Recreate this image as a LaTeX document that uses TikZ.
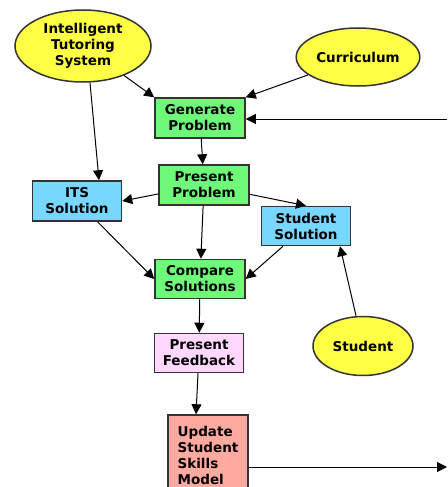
\documentclass[tikz,border=0pt]{standalone}
\usepackage{fontspec}
\setmainfont{DejaVu Sans}
\usetikzlibrary{shapes.geometric,arrows.meta}
\definecolor{ovalyellow}{RGB}{255,255,70}
\definecolor{stepgreen}{RGB}{110,250,120}
\definecolor{solblue}{RGB}{120,215,255}
\definecolor{fbpink}{RGB}{255,215,255}
\definecolor{modelred}{RGB}{255,170,160}
\begin{document}
\begin{tikzpicture}
  [x=1pt,y=-1pt,>={Triangle[length=10pt,width=10pt]},line width=1pt,
   every node/.style={font=\fontsize{13.5}{16}\selectfont\bfseries,draw=black!80,line width=1.5pt,inner sep=2pt},
   oval/.style={ellipse,fill=ovalyellow,align=center},
   box/.style={rectangle,minimum width=90pt,minimum height=40pt,align=center}]
  \useasboundingbox (0,0) rectangle (447,487);
  \node[oval,minimum width=136pt,minimum height=72pt] (its) at (83,46) {Intelligent\\Tutoring\\System};
  \node[oval,minimum width=100pt,minimum height=58pt] (cur) at (358,57) {Curriculum};
  \node[oval,minimum width=100pt,minimum height=59pt] (stu) at (363,346) {Student};

  \node[box,fill=stepgreen] (gen) at (200,118) {Generate\\Problem};
  \node[box,fill=stepgreen] (pres) at (204,185) {Present\\Problem};
  \node[box,fill=solblue,minimum width=89pt] (itssol) at (77,201) {ITS\\Solution};
  \node[box,fill=solblue,minimum width=89pt,minimum height=39pt] (stusol) at (306,226) {Student\\Solution};
  \node[box,fill=stepgreen,minimum height=39pt] (comp) at (200,279) {Compare\\Solutions};
  \node[box,fill=fbpink,minimum width=89pt,minimum height=39pt] (fb) at (199,353) {Present\\Feedback};
  \node[box,fill=modelred,minimum width=80pt,minimum height=80pt,align=left] (upd) at (208,455) {Update\\Student\\Skills\\Model};

  \coordinate (inR) at (447,119);
  \coordinate (outR) at (447,467);

  \draw[->] ([xshift=7pt]its.south) -- ([xshift=22pt]itssol.north);
  \draw[->] (its) -- (gen.north west);
  \draw[->] (cur) -- (gen.north east);
  \draw[->] (inR) -- (inR -| gen.east);
  \draw[->] (gen) -- (pres);
  \draw[->] (pres) -- (itssol.east);
  \draw[->] (pres) -- (stusol.north);
  \draw[->] (pres) -- (comp);
  \draw[->] (itssol) -- (comp.west);
  \draw[->] (stusol) -- (comp.east);
  \draw[->] ([xshift=-7pt]stu.north) -- ([xshift=34pt]stusol.south);
  \draw[->] (comp) -- (fb);
  \draw[->] (fb) -- ([xshift=-12pt]upd.north);
  \draw[->] (upd.east |- outR) -- (outR);
\end{tikzpicture}
\end{document}
